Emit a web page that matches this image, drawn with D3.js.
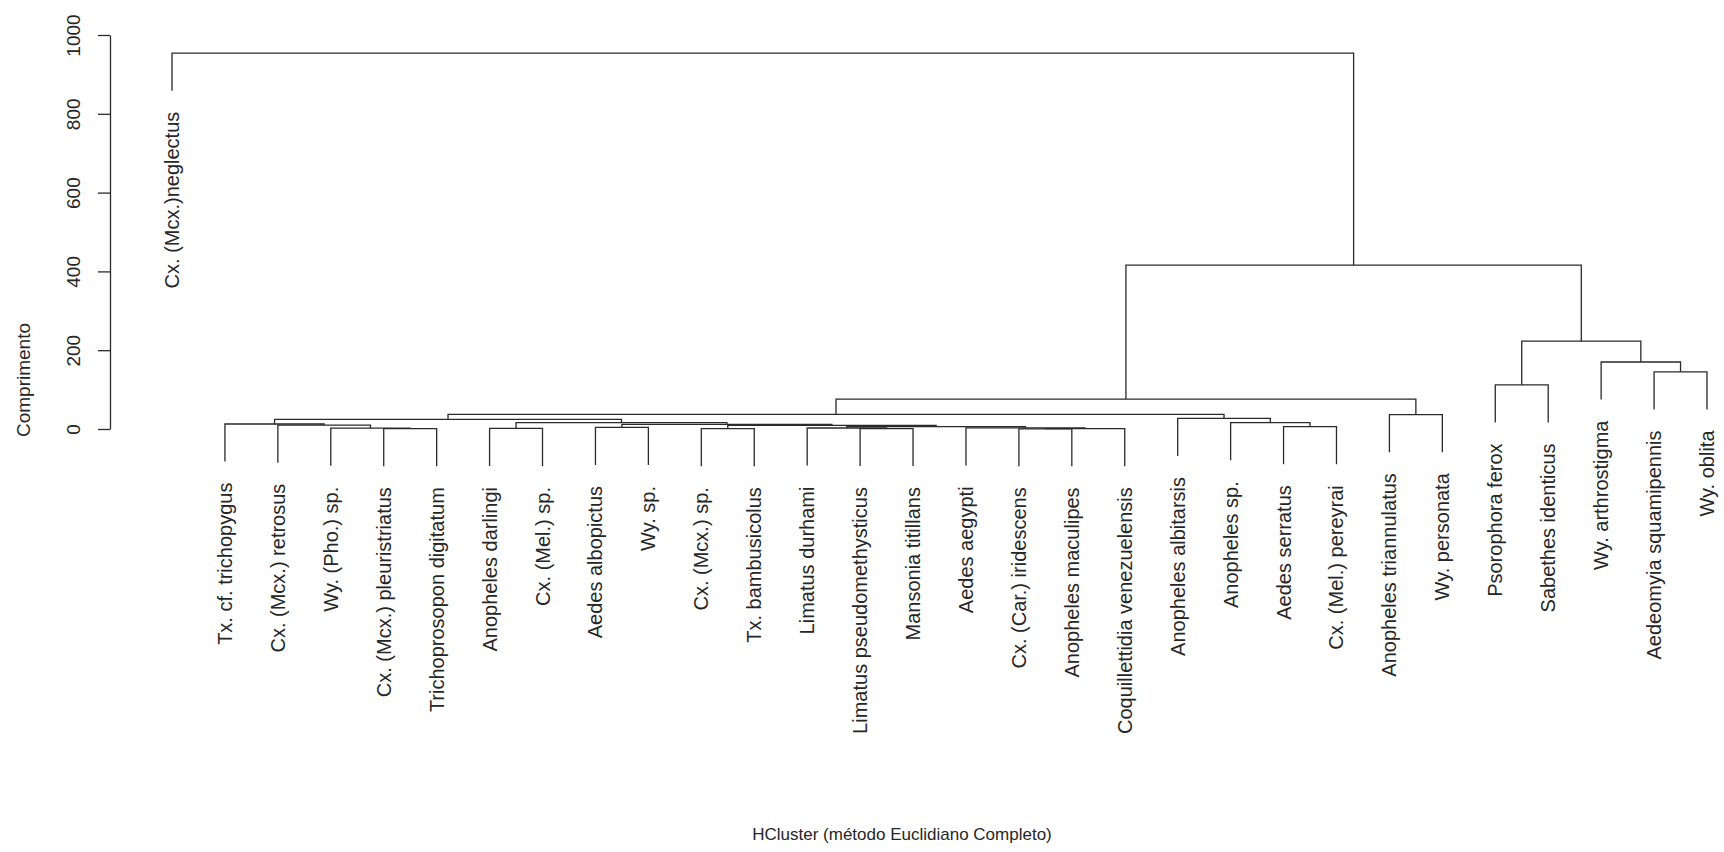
<!DOCTYPE html>
<html>
<head>
<meta charset="utf-8">
<title>HCluster</title>
<script src="https://cdn.jsdelivr.net/npm/d3@7"></script>
<style>
  body { margin: 0; background: #fff; }
  text { font-family: "Liberation Sans", Arial, sans-serif; fill: #262626; }
</style>
</head>
<body>
<svg id="chart" width="1724" height="852"></svg>
<script>
// leaves, left to right
let labels = [
  "Cx. (Mcx.)neglectus", "Tx. cf. trichopygus", "Cx. (Mcx.) retrosus", "Wy. (Pho.) sp.",
  "Cx. (Mcx.) pleuristriatus", "Trichoprosopon digitatum", "Anopheles darlingi", "Cx. (Mel.) sp.",
  "Aedes albopictus", "Wy. sp.", "Cx. (Mcx.) sp.", "Tx. bambusicolus", "Limatus durhami",
  "Limatus pseudomethysticus", "Mansonia titillans", "Aedes aegypti", "Cx. (Car.) iridescens",
  "Anopheles maculipes", "Coquillettidia venezuelensis", "Anopheles albitarsis", "Anopheles sp.",
  "Aedes serratus", "Cx. (Mel.) pereyrai", "Anopheles triannulatus", "Wy. personata",
  "Psorophora ferox", "Sabethes identicus", "Wy. arthrostigma", "Aedeomyia squamipennis", "Wy. oblita"
]

// merge steps as in R's hclust: negative = leaf (position in labels), positive = earlier step
let merges = [
  [-17, -18], [1, -19], [-5, -6], [-11, -12], [-14, -15], [-7, -8], [-4, 3], [-13, 5],
  [-16, 2], [-9, -10], [8, 9], [-22, -23], [4, 11], [-3, 7], [10, 13], [-2, 14],
  [6, 15], [-21, 12], [16, 17], [-20, 18], [-24, -25], [19, 20], [22, 21], [-26, -27],
  [-29, -30], [-28, 25], [24, 26], [23, 27], [-1, 28]
]
let heights = [
  0.5, 1, 1, 1, 1.2, 1.5, 2, 2.5,
  3, 4, 6, 6, 9, 10, 11.5, 12.7,
  16, 16, 24.6, 27, 36.5, 37, 76, 112,
  145, 170, 223, 416, 954
]
let yTicks = [0, 200, 400, 600, 800, 1000]

let svg = d3.select("#chart")
svg.append("rect").attr("width", 1724).attr("height", 852).attr("fill", "#fff")

let x = d3.scaleLinear().domain([1, labels.length]).range([172, 1707])
let y = d3.scaleLinear().domain([0, 1000]).range([429, 35])
let hang = 0.1 * (d3.max(heights) - d3.min(heights))

// x of each merge = mean of its two children
let nodeX = []
merges.forEach(m => {
  nodeX.push(d3.mean(m.map(c => c < 0 ? x(-c) : nodeX[c - 1])))
})

let tree = svg.append("g")
  .attr("fill", "none")
  .attr("stroke", "#2a2a2a")
  .attr("stroke-width", 1.3)

merges.forEach((m, i) => {
  let h = heights[i]
  let pts = m.map(c => c < 0
    ? [x(-c), y(h - hang)]
    : [nodeX[c - 1], y(heights[c - 1])])
  tree.append("path")
    .attr("d", `M${pts[0][0]},${pts[0][1]}V${y(h)}H${pts[1][0]}V${pts[1][1]}`)

  // leaf labels hang below the leaf ends
  m.forEach(c => {
    if (c > 0) return
    let lx = x(-c), ly = y(h - hang) + 21
    svg.append("text")
      .attr("transform", `translate(${lx},${ly}) rotate(-90)`)
      .attr("text-anchor", "end")
      .attr("dy", "0.35em")
      .attr("font-size", 20)
      .text(labels[-c - 1])
  })
})

// y axis
let yAxis = d3.axisLeft(y).tickValues(yTicks).tickFormat(d3.format("d"))
  .tickSize(12).tickSizeOuter(0)
let ax = svg.append("g")
  .attr("transform", "translate(110,0)")
  .style("color", "#2a2a2a")
  .call(yAxis)
ax.selectAll("path, line").attr("stroke-width", 1.3)
ax.selectAll(".tick text")
  .attr("x", 0).attr("y", -30).attr("dy", 0)
  .attr("transform", "rotate(-90)")
  .attr("text-anchor", "middle")
  .attr("font-size", 19)
  .style("font-family", "'Liberation Sans', Arial, sans-serif")

svg.append("text")
  .attr("transform", "translate(30,380) rotate(-90)")
  .attr("text-anchor", "middle")
  .attr("font-size", 19)
  .text("Comprimento")

svg.append("text")
  .attr("x", 902).attr("y", 840)
  .attr("text-anchor", "middle")
  .attr("font-size", 17)
  .text("HCluster (método Euclidiano Completo)")
</script>
</body>
</html>
